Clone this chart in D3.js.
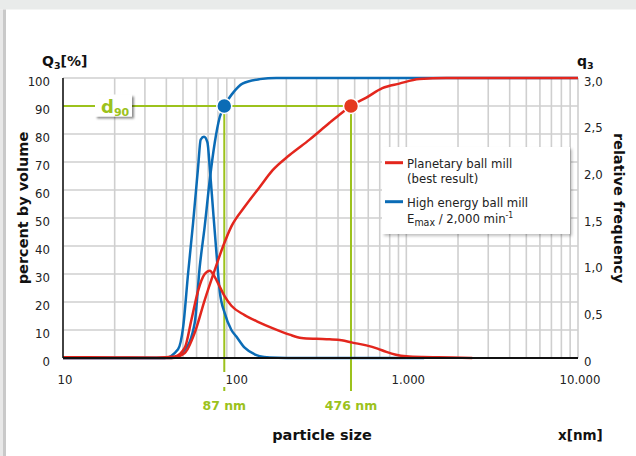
<!DOCTYPE html>
<html><head><meta charset="utf-8">
<script src="https://cdn.jsdelivr.net/npm/d3@7"></script>
<style>
html,body{margin:0;padding:0;background:#fff;}
svg{display:block;font-family:"DejaVu Sans",Verdana,sans-serif;}
.cond{font-family:"DejaVu Sans Condensed","DejaVu Sans",sans-serif;font-stretch:condensed;}
</style></head>
<body>
<svg id="chart" width="636" height="456"></svg>
<script>
// ---- data ----
const xTickValues = [10, 100, 1000, 10000];
const xTickLabels = ["10", "100", "1.000", "10.000"];
const leftTickValues = [0, 10, 20, 30, 40, 50, 60, 70, 80, 90, 100];
const rightTickValues = [0, 0.5, 1, 1.5, 2, 2.5, 3];
const rightTickLabels = ["0", "0,5", "1,0", "1,5", "2,0", "2,5", "3,0"];

// cumulative Q3 [%]
const blueCumX = [10, 42.9, 51.2, 58.5, 62.6, 66.9, 71.6, 76.5, 81.8, 87, 97.5, 111, 140, 175, 10000];
const blueCumY = [0, 0, 2.9, 12.5, 32.6, 47, 63.6, 76.8, 86, 90, 94.6, 98, 99.6, 100, 100];
const redCumX = [10, 42.9, 51.2, 58.5, 66.9, 76.5, 85.5, 95.7, 114.3, 139.7, 166, 209, 273, 357, 420, 476, 585, 725, 910, 1190, 1709, 10000];
const redCumY = [0, 0, 1.8, 9, 20.7, 31.4, 39.8, 47, 54, 61, 67, 72.5, 78, 84, 87.5, 90, 93, 96.4, 98, 99.6, 100, 100];

// relative frequency q3
const blueFreqX = [10, 39.2, 46.8, 50.1, 53.5, 57.2, 61.2, 63.4, 66.3, 69.4, 71.6, 74.8, 78.3, 81.8, 87.5, 95.7, 102.3, 114.3, 130.7, 139.7, 160, 200, 1270];
const blueFreqY = [0, 0, 0.093, 0.33, 0.9, 1.44, 2.04, 2.34, 2.37, 2.31, 2.04, 1.59, 1.13, 0.72, 0.48, 0.30, 0.23, 0.11, 0.04, 0.02, 0.005, 0, 0];
const redFreqX = [10, 20, 35, 44.8, 51.2, 56, 61.2, 66.9, 71.6, 76.5, 81.8, 87.5, 95.7, 114.3, 139.7, 166, 209, 245, 300, 357, 420, 485, 585, 680, 765, 870, 1000, 1239, 1850, 2420];
const redFreqY = [0.008, 0.006, 0.004, 0.015, 0.11, 0.41, 0.72, 0.9, 0.936, 0.87, 0.765, 0.66, 0.56, 0.46, 0.38, 0.32, 0.25, 0.215, 0.205, 0.2, 0.19, 0.165, 0.135, 0.1, 0.065, 0.035, 0.018, 0.01, 0.006, 0];

const seriesNames = ["Planetary ball mill", "High energy ball mill"];
const seriesSub = ["(best result)", "E_max / 2,000 min^-1"];
const d90Values = [87, 476];
const d90Labels = ["87 nm", "476 nm"];

// ---- styles ----
const RED = "#e3261d", BLUE = "#0b6cb6", GREEN = "#9cc21c", GRID = "#cfcfcf";

const svg = d3.select("#chart");
const x = d3.scaleLog().domain([10, 10000]).range([63, 578]);
const y = d3.scaleLinear().domain([0, 100]).range([358, 78]);
const y2 = d3.scaleLinear().domain([0, 3]).range([358, 78]);

// frame
svg.append("rect").attr("x", 0).attr("y", 0).attr("width", 636).attr("height", 9.5).attr("fill", "#e9ebea");
svg.append("rect").attr("x", 0).attr("y", 9.5).attr("width", 3).attr("height", 447).attr("fill", "#e8e8e8");
svg.append("rect").attr("x", 3).attr("y", 9.5).attr("width", 3).attr("height", 447).attr("fill", "#c9c9c9");

const defs = svg.append("defs");
const f1 = defs.append("filter").attr("id", "sh").attr("x", "-20%").attr("y", "-20%").attr("width", "150%").attr("height", "150%");
f1.append("feDropShadow").attr("dx", 2).attr("dy", 2).attr("stdDeviation", 1.5).attr("flood-color", "#000").attr("flood-opacity", 0.25);
const f2 = defs.append("filter").attr("id", "sh2").attr("x", "-20%").attr("y", "-20%").attr("width", "150%").attr("height", "150%");
f2.append("feDropShadow").attr("dx", 2).attr("dy", 2).attr("stdDeviation", 1.2).attr("flood-color", "#000").attr("flood-opacity", 0.45);

// grid
const g = svg.append("g");
const vTicks = x.ticks();
g.selectAll("line.v").data(vTicks).join("line")
  .attr("x1", d => x(d)).attr("x2", d => x(d)).attr("y1", y(100)).attr("y2", y(0))
  .attr("stroke", GRID).attr("stroke-width", 1.6);
g.selectAll("line.h").data(leftTickValues).join("line")
  .attr("x1", x(10)).attr("x2", x(10000)).attr("y1", d => y(d)).attr("y2", d => y(d))
  .attr("stroke", GRID).attr("stroke-width", 1.6);

// d90 green lines
const yd = y(90);
svg.append("line").attr("x1", x(10)).attr("x2", x(d90Values[1])).attr("y1", yd).attr("y2", yd)
  .attr("stroke", GREEN).attr("stroke-width", 2);
d90Values.forEach(v => {
  svg.append("line").attr("x1", x(v)).attr("x2", x(v)).attr("y1", yd).attr("y2", 391)
    .attr("stroke", GREEN).attr("stroke-width", 2);
});

// x tick labels (with white background boxes)
const xl = svg.append("g");
xTickValues.forEach((v, i) => {
  const t = xl.append("text").attr("class", "cond").attr("x", x(v) + 2).attr("y", 384).attr("text-anchor", "middle")
    .attr("font-size", 13).attr("fill", "#222").text(xTickLabels[i]);
  const b = t.node().getBBox();
  xl.insert("rect", "text").attr("x", b.x - 5).attr("y", b.y).attr("width", b.width + 10).attr("height", b.height)
    .attr("fill", "#fff");
});

// curves
const line = (xs, ys, sy) => d3.line().x((d, i) => x(xs[i])).y((d, i) => sy(ys[i])).curve(d3.curveMonotoneX)(xs);
svg.append("path").attr("d", line(blueFreqX, blueFreqY, y2)).attr("fill", "none").attr("stroke", BLUE).attr("stroke-width", 2.5);
svg.append("path").attr("d", line(blueCumX, blueCumY, y)).attr("fill", "none").attr("stroke", BLUE).attr("stroke-width", 2.5);
svg.append("path").attr("d", line(redFreqX, redFreqY, y2)).attr("fill", "none").attr("stroke", RED).attr("stroke-width", 2.5);
svg.append("path").attr("d", line(redCumX, redCumY, y)).attr("fill", "none").attr("stroke", RED).attr("stroke-width", 2.5);

// axes lines
svg.append("line").attr("x1", x(10)).attr("x2", x(10)).attr("y1", y(100)).attr("y2", y(0)).attr("stroke", "#111").attr("stroke-width", 1.5);
svg.append("line").attr("x1", x(10)).attr("x2", x(10000)).attr("y1", y(0)).attr("y2", y(0)).attr("stroke", "#111").attr("stroke-width", 1.8);

// left tick labels
svg.append("g").selectAll("text").data(leftTickValues).join("text").attr("class", "cond")
  .attr("x", 50).attr("y", d => y(d) + 7.5).attr("text-anchor", "end")
  .attr("font-size", 13).attr("fill", "#222").text(d => d);
// right tick labels
svg.append("g").selectAll("text").data(rightTickValues).join("text").attr("class", "cond")
  .attr("x", 584).attr("y", d => y2(d) + 7.5).attr("text-anchor", "start")
  .attr("font-size", 13).attr("fill", "#222").text((d, i) => rightTickLabels[i]);

// d90 markers
svg.append("circle").attr("cx", x(d90Values[0])).attr("cy", yd).attr("r", 7.5).attr("fill", BLUE).attr("stroke", "#fff").attr("stroke-width", 1.5);
svg.append("circle").attr("cx", x(d90Values[1])).attr("cy", yd).attr("r", 7.5).attr("fill", "#e5391e").attr("stroke", "#fff").attr("stroke-width", 1.5);

// d90 labels below axis
d90Values.forEach((v, i) => {
  svg.append("text").attr("x", x(v)).attr("y", 410).attr("text-anchor", "middle")
    .attr("font-size", 12.5).attr("font-weight", "bold").attr("fill", GREEN).text(d90Labels[i]);
});

// d90 box
svg.append("rect").attr("x", 95).attr("y", 94.5).attr("width", 37).attr("height", 22).attr("fill", "#fff").attr("filter", "url(#sh2)");
const dt = svg.append("text").attr("x", 101).attr("y", 113).attr("fill", GREEN).attr("font-weight", "bold");
dt.append("tspan").attr("font-size", 18).text("d");
dt.append("tspan").attr("font-size", 11).attr("dy", 3).text("90");

// legend
svg.append("rect").attr("x", 382).attr("y", 147).attr("width", 188).attr("height", 87).attr("fill", "#fff").attr("filter", "url(#sh)");
const colors = [RED, BLUE];
const legY = [162.7, 201.7];
seriesNames.forEach((n, i) => {
  svg.append("line").attr("x1", 385).attr("x2", 403).attr("y1", legY[i]).attr("y2", legY[i]).attr("stroke", colors[i]).attr("stroke-width", 3);
  svg.append("text").attr("class", "cond").attr("x", 407).attr("y", legY[i] + 5.5).attr("font-size", 13).attr("fill", "#222").text(n);
});
svg.append("text").attr("class", "cond").attr("x", 407).attr("y", 182.7).attr("font-size", 13).attr("fill", "#222").text(seriesSub[0]);
const e = svg.append("text").attr("class", "cond").attr("x", 407).attr("y", 222.7).attr("font-size", 13).attr("fill", "#222");
e.append("tspan").text("E");
e.append("tspan").attr("font-size", 10.5).attr("dy", 3).text("max");
e.append("tspan").attr("dy", -3).text(" / 2,000 min");
e.append("tspan").attr("font-size", 8.5).attr("dy", -5).text("-1");

// axis titles
const q = svg.append("text").attr("x", 42).attr("y", 66).attr("font-size", 14).attr("font-weight", "bold").attr("fill", "#111");
q.append("tspan").text("Q");
q.append("tspan").attr("font-size", 9.5).attr("dy", 3).text("3");
q.append("tspan").attr("dy", -3).text("[%]");
const q2 = svg.append("text").attr("x", 577).attr("y", 66).attr("font-size", 14).attr("font-weight", "bold").attr("fill", "#111");
q2.append("tspan").text("q");
q2.append("tspan").attr("font-size", 9.5).attr("dy", 3).text("3");

svg.append("text").attr("transform", "translate(28,208) rotate(-90)").attr("text-anchor", "middle")
  .attr("font-size", 14.5).attr("font-weight", "bold").attr("fill", "#111").text("percent by volume");
svg.append("text").attr("transform", "translate(614,208) rotate(90)").attr("text-anchor", "middle")
  .attr("font-size", 14.5).attr("font-weight", "bold").attr("fill", "#111").text("relative frequency");
svg.append("text").attr("x", 322).attr("y", 440).attr("text-anchor", "middle")
  .attr("font-size", 14.5).attr("font-weight", "bold").attr("fill", "#111").text("particle size");
svg.append("text").attr("x", 558).attr("y", 440).attr("text-anchor", "start")
  .attr("font-size", 13.5).attr("font-weight", "bold").attr("fill", "#111").text("x[nm]");
</script>
</body></html>
